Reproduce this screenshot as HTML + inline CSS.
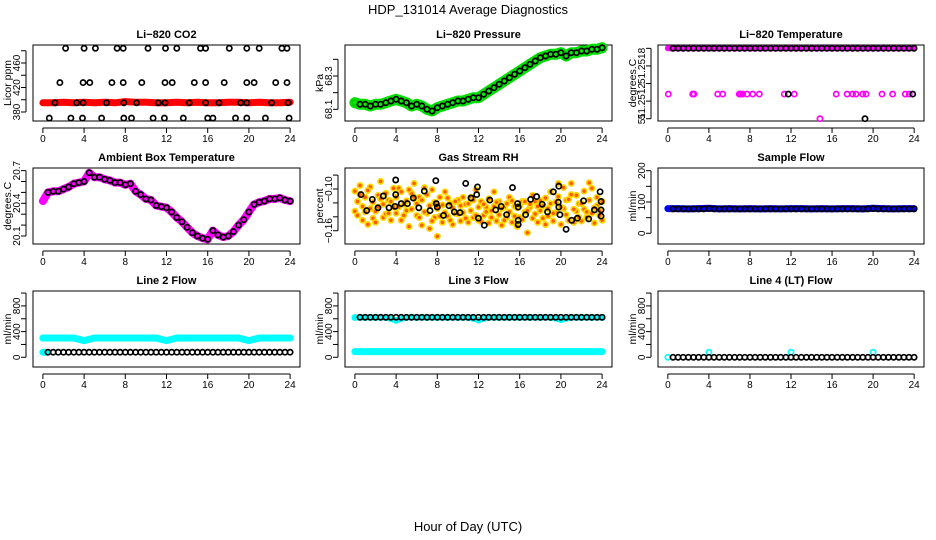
<!DOCTYPE html>
<html><head><meta charset="utf-8"><style>
html,body{margin:0;padding:0;background:#fff;}
svg{display:block;font-family:"Liberation Sans",sans-serif;}
</style></head><body>
<svg id="chart" width="936" height="540" viewBox="0 0 936 540" xmlns="http://www.w3.org/2000/svg">
<rect width="936" height="540" fill="#fff"/>
<text x="468" y="14" text-anchor="middle" font-size="13">HDP_131014  Average Diagnostics</text>
<text x="468" y="531" text-anchor="middle" font-size="13">Hour of Day (UTC)</text>
</svg>
<script>
// ---------- data ----------
const xTicks = [0,4,8,12,16,20,24];
const hours25 = [0,1,2,3,4,5,6,7,8,9,10,11,12,13,14,15,16,17,18,19,20,21,22,23,24];
const halfHours = [0,0.5,1,1.5,2,2.5,3,3.5,4,4.5,5,5.5,6,6.5,7,7.5,8,8.5,9,9.5,10,10.5,11,11.5,12,12.5,13,13.5,14,14.5,15,15.5,16,16.5,17,17.5,18,18.5,19,19.5,20,20.5,21,21.5,22,22.5,23,23.5,24];

// CO2
const co2Red = [395,395,396,395,396,395,396,395,397,396,396,395,395,396,395,396,395,395,396,396,395,396,395,395,396];
const co2BlackHours = [2.2,4.0,5.1,7.2,7.8,10.2,11.9,13.0,15.3,15.8,18.1,19.8,21.0,23.2,23.7,
 1.65,3.9,4.55,6.7,7.8,9.6,11.85,12.55,14.7,15.8,17.6,19.8,20.5,22.6,23.7,
 1.17,3.27,3.9,6.18,7.85,9.1,11.2,11.85,14.2,15.8,17.1,19.2,19.8,22.2,23.8,
 0.62,2.72,3.85,5.7,7.85,8.6,10.7,11.8,13.63,16.0,16.5,18.7,19.8,21.6,23.9];
const co2BlackVals = [484,484,484,484,484,484,484,484,484,484,484,484,484,484,484,
 428,428,428,428,428,428,428,428,428,428,428,428,428,428,428,
 395,395,395,395,395,395,395,395,395,395,395,395,395,395,395,
 370,370,370,370,370,370,370,370,370,370,370,370,370,370,370];

// Pressure
const pressure = [68.14,68.13,68.13,68.12,68.13,68.13,68.14,68.15,68.16,68.15,68.14,68.12,68.13,68.12,68.10,68.09,68.11,68.12,68.13,68.14,68.15,68.15,68.16,68.17,68.17,68.19,68.21,68.23,68.25,68.27,68.29,68.31,68.33,68.35,68.37,68.39,68.41,68.42,68.43,68.43,68.44,68.42,68.44,68.44,68.45,68.45,68.46,68.46,68.47];

// Li-820 temperature
const tempTopVal = [51.2519,51.2519,51.2519,51.2519,51.2519,51.2519,51.2519,51.2519,51.2519,51.2519,51.2519,51.2519,51.2519,51.2519,51.2519,51.2519,51.2519,51.2519,51.2519,51.2519,51.2519,51.2519,51.2519,51.2519,51.2519,51.2519,51.2519,51.2519,51.2519,51.2519,51.2519,51.2519,51.2519,51.2519,51.2519,51.2519,51.2519,51.2519,51.2519,51.2519,51.2519,51.2519,51.2519,51.2519,51.2519,51.2519,51.2519,51.2519,51.2519];
const tempMagHours = [0.04,2.42,2.55,4.86,5.34,6.96,7.1,7.29,7.71,8.27,8.91,11.35,12.32,16.4,17.47,18.0,18.33,18.99,19.31,20.87,21.9,23.14,23.53,14.83];
const tempMagVals = [51.25164,51.25164,51.25164,51.25164,51.25164,51.25164,51.25164,51.25164,51.25164,51.25164,51.25164,51.25164,51.25164,51.25164,51.25164,51.25164,51.25164,51.25164,51.25164,51.25164,51.25164,51.25164,51.25164,51.2515];
const tempBlkHours = [11.74,23.86,19.21];
const tempBlkVals = [51.25164,51.25164,51.2515];
const tempTickVals = [51.2515,51.2516,51.2517,51.2518,51.2519];
const tempTickLabels = ["51","51.2512","","51.2518",""];

// Ambient box temperature
const ambient = [20.42,20.50,20.51,20.51,20.53,20.55,20.58,20.59,20.60,20.68,20.64,20.64,20.62,20.61,20.59,20.59,20.57,20.58,20.51,20.48,20.44,20.43,20.38,20.37,20.36,20.32,20.27,20.23,20.18,20.13,20.10,20.08,20.07,20.15,20.11,20.09,20.10,20.14,20.20,20.25,20.32,20.39,20.41,20.42,20.44,20.44,20.45,20.43,20.42];

// Gas stream RH
const rhOrangeHours = [0,0.25,0.5,0.75,1,1.25,1.5,1.75,2,2.25,2.5,2.75,3,3.25,3.5,3.75,4,4.25,4.5,4.75,5,5.25,5.5,5.75,6,6.25,6.5,6.75,7,7.25,7.5,7.75,8,8.25,8.5,8.75,9,9.25,9.5,9.75,10,10.25,10.5,10.75,11,11.25,11.5,11.75,12,12.25,12.5,12.75,13,13.25,13.5,13.75,14,14.25,14.5,14.75,15,15.25,15.5,15.75,16,16.25,16.5,16.75,17,17.25,17.5,17.75,18,18.25,18.5,18.75,19,19.25,19.5,19.75,20,20.25,20.5,20.75,21,21.25,21.5,21.75,22,22.25,22.5,22.75,23,23.25,23.5,23.75,24];
const rhOrangeA = [-0.103,-0.118,-0.108,-0.125,-0.112,-0.102,-0.128,-0.119,-0.132,-0.109,-0.114,-0.122,-0.106,-0.135,-0.118,-0.099,-0.112,-0.126,-0.104,-0.138,-0.117,-0.101,-0.129,-0.112,-0.121,-0.141,-0.116,-0.133,-0.108,-0.124,-0.146,-0.119,-0.128,-0.139,-0.123,-0.134,-0.113,-0.145,-0.127,-0.118,-0.136,-0.124,-0.112,-0.142,-0.121,-0.131,-0.116,-0.138,-0.126,-0.147,-0.122,-0.133,-0.114,-0.141,-0.125,-0.119,-0.137,-0.128,-0.145,-0.121,-0.133,-0.117,-0.139,-0.127,-0.124,-0.144,-0.118,-0.131,-0.122,-0.109,-0.136,-0.125,-0.117,-0.142,-0.113,-0.128,-0.104,-0.135,-0.119,-0.111,-0.126,-0.098,-0.137,-0.115,-0.092,-0.129,-0.109,-0.141,-0.121,-0.103,-0.133,-0.116,-0.099,-0.127,-0.112,-0.138,-0.118];
const rhOrangeB = [-0.132,-0.138,-0.095,-0.145,-0.133,-0.151,-0.097,-0.142,-0.148,-0.126,-0.089,-0.141,-0.136,-0.116,-0.145,-0.126,-0.135,-0.099,-0.145,-0.122,-0.131,-0.154,-0.106,-0.092,-0.138,-0.112,-0.152,-0.098,-0.135,-0.157,-0.101,-0.141,-0.168,-0.112,-0.148,-0.104,-0.139,-0.121,-0.151,-0.135,-0.116,-0.146,-0.134,-0.122,-0.148,-0.112,-0.141,-0.101,-0.145,-0.118,-0.138,-0.126,-0.149,-0.131,-0.104,-0.146,-0.118,-0.152,-0.126,-0.141,-0.112,-0.148,-0.125,-0.154,-0.141,-0.118,-0.133,-0.163,-0.126,-0.142,-0.118,-0.148,-0.131,-0.124,-0.151,-0.139,-0.121,-0.146,-0.134,-0.092,-0.151,-0.128,-0.116,-0.145,-0.108,-0.148,-0.132,-0.121,-0.146,-0.129,-0.141,-0.091,-0.135,-0.149,-0.124,-0.131,-0.145];
const rhBlackHours = [0.59,1.15,1.69,2.24,2.76,3.31,3.89,3.96,3.96,4.5,5.1,5.67,6.2,6.74,7.29,7.85,7.9,8.0,8.6,9.14,9.65,10.2,10.76,11.27,11.83,11.9,11.99,12.56,13.1,13.67,14.2,14.73,15.3,15.8,15.85,15.85,15.85,16.57,17.06,17.64,18.18,18.7,19.26,19.75,19.8,19.8,19.9,20.5,21.05,21.6,22.2,22.7,23.25,23.8,23.9,23.9,23.9];
const rhBlackVals = [-0.108,-0.131,-0.115,-0.127,-0.110,-0.127,-0.125,-0.087,-0.108,-0.121,-0.121,-0.113,-0.127,-0.103,-0.131,-0.088,-0.121,-0.126,-0.138,-0.124,-0.133,-0.134,-0.092,-0.113,-0.108,-0.097,-0.142,-0.152,-0.116,-0.130,-0.125,-0.137,-0.098,-0.121,-0.126,-0.145,-0.151,-0.137,-0.115,-0.111,-0.122,-0.133,-0.104,-0.119,-0.096,-0.126,-0.137,-0.158,-0.145,-0.142,-0.117,-0.143,-0.130,-0.104,-0.118,-0.130,-0.139];

// Sample flow
const sampleBlue = [79,79,78,79,80,78,79,78,79,78,79,78,79,79,78,79,78,79,79,78,80,79,78,79,79];
const sampleBlack = [78,78,78,78,78,78,78,78,79,78,78,78,78,78,78,78,78,78,78,78,78,78,78,78,78,78,78,78,78,78,78,78,78,78,78,78,78,78,78,78,79,78,78,78,78,78,78,78,78];

// Line flows
const line2Cyan = [300,300,300,300,260,300,300,300,300,300,300,300,260,300,300,300,300,300,300,300,260,300,300,300,300];
const line2Black = [80,80,80,80,80,80,80,80,80,80,80,80,80,80,80,80,80,80,80,80,80,80,80,80,80,80,80,80,80,80,80,80,80,80,80,80,80,80,80,80,80,80,80,80,80,80,80,80,80];
const line3CyanHigh = [620,620,620,620,575,620,620,620,620,620,620,620,580,620,620,620,620,620,620,620,585,620,620,620,620];
const line3CyanLow = [88,88,88,88,88,88,88,88,88,88,88,88,88,88,88,88,88,88,88,88,88,88,88,88,88];
const line3Black = [622,622,622,622,622,622,622,622,622,622,622,622,622,622,622,622,622,622,622,622,622,622,622,622,622,622,622,622,622,622,622,622,622,622,622,622,622,622,622,622,622,622,622,622,622,622,622,622,622];
const line4CyanHours = [0,4,12,20];
const line4CyanVals = [0,80,80,80];
const line4Black = [0,0,0,0,0,0,0,0,0,0,0,0,0,0,0,0,0,0,0,0,0,0,0,0,0,0,0,0,0,0,0,0,0,0,0,0,0,0,0,0,0,0,0,0,0,0,0,0,0];

// ---------- drawing ----------
const NS = "http://www.w3.org/2000/svg";
const svg = document.getElementById('chart');
function mk(tag, attrs, parent){
  const e = document.createElementNS(NS, tag);
  for (const k in attrs) e.setAttribute(k, attrs[k]);
  (parent||svg).appendChild(e);
  return e;
}
function makePanel(name, x0, x1, y0, y1, ymin, ymax, title, ylab, yTicks, yLabels){
  const g = mk('g', {});
  
  
  const p = {g, x0, x1, y0, y1,
    sx: h => x0 + (h + 0.96) / 25.92 * (x1 - x0),
    sy: v => y1 - (v - ymin) / (ymax - ymin) * (y1 - y0)};
  const t = mk('text', {x:(x0+x1)/2, y:y0-7, 'text-anchor':'middle', 'font-size':'11', 'font-weight':'bold'}, g);
  t.textContent = title;
  
  
  const yl = mk('text', {x:0, y:0, 'text-anchor':'middle', 'font-size':'10.5', transform:`translate(${x0-22},${(y0+y1)/2}) rotate(-90)`}, g);
  yl.textContent = ylab;
  
  
  // x axis
  const xa = mk('g', {}, g);
  
  
  mk('line', {x1:p.sx(xTicks[0]), x2:p.sx(xTicks[xTicks.length-1]), y1:y1+7, y2:y1+7, stroke:'#000'}, xa);
  xTicks.forEach(v => {
    mk('line', {x1:p.sx(v), x2:p.sx(v), y1:y1+7, y2:y1+12, stroke:'#000'}, xa);
    const tx = mk('text', {x:p.sx(v), y:y1+21, 'text-anchor':'middle', 'font-size':'10'}, xa);
    tx.textContent = v;
    
    
  });
  // y axis
  const ya = mk('g', {}, g);
  
  
  mk('line', {x1:x0-7, x2:x0-7, y1:p.sy(yTicks[0]), y2:p.sy(yTicks[yTicks.length-1]), stroke:'#000'}, ya);
  yTicks.forEach((v, i) => {
    mk('line', {x1:x0-12, x2:x0-7, y1:p.sy(v), y2:p.sy(v), stroke:'#000'}, ya);
    if (yLabels[i]) {
      const ty = mk('text', {x:0, y:0, 'text-anchor':'middle', 'font-size':'10', transform:`translate(${x0-13},${p.sy(v)}) rotate(-90)`}, ya);
      ty.textContent = yLabels[i];
      
      
    }
  });
  const box = mk('rect', {x:x0, y:y0, width:x1-x0, height:y1-y0, fill:'none', stroke:'#000'}, g);
  
  
  return p;
}
function band(p, hs, vs, color, w, nm){
  const pts = hs.map((h,i) => p.sx(h).toFixed(1)+','+p.sy(vs[i]).toFixed(1)).join(' ');
  const pl = mk('polyline', {points:pts, fill:'none', stroke:color, 'stroke-width':w, 'stroke-linejoin':'round', 'stroke-linecap':'round'}, p.g);
  
  
}
function pts(p, hs, vs, stroke, fill, nm){
  const g = mk('g', {}, p.g);
  
  
  hs.forEach((h,i) => {
    const c = mk('circle', {cx:p.sx(h).toFixed(1), cy:p.sy(vs[i]).toFixed(1), r:2.6, fill:fill, stroke:stroke, 'stroke-width':1.7}, g);
    
    
  });
}
const C = [[33,300],[345,612],[658,924]];
const R = [[45,121],[168,244],[291,367]];

// 1 CO2
let p = makePanel('co2-panel', C[0][0], C[0][1], R[0][0], R[0][1], 365.3, 489.4, 'Li\u2212820 CO2', 'Licor ppm', [380,400,420,440,460,480], ['380','','420','','460','']);
band(p, hours25, co2Red, '#ff0000', 7, 'co2-red-series');
pts(p, co2BlackHours, co2BlackVals, '#000', 'none', 'co2-black-points');

// 2 Pressure
p = makePanel('pressure-panel', C[1][0], C[1][1], R[0][0], R[0][1], 68.03, 68.486, 'Li\u2212820 Pressure', 'kPa', [68.1,68.2,68.3,68.4], ['68.1','','68.3','']);
band(p, halfHours, pressure, '#00dd00', 11, 'pressure-green-series');
pts(p, halfHours, pressure, '#00cc00', '#00ee00', 'pressure-green-points');
pts(p, halfHours.slice(1), pressure.slice(1), '#000', 'none', 'pressure-black-points');

// 3 Li-820 temp
p = makePanel('li820-temp-panel', C[2][0], C[2][1], R[0][0], R[0][1], 51.251487, 51.251919, 'Li\u2212820 Temperature', 'degrees.C', tempTickVals, tempTickLabels);
band(p, halfHours, tempTopVal, '#ff00ff', 6, 'temp-magenta-series');
pts(p, tempMagHours, tempMagVals, '#ff00ff', 'none', 'temp-magenta-points');
pts(p, halfHours.slice(1), tempTopVal.slice(1), '#000', 'none', 'temp-black-points');
pts(p, tempBlkHours, tempBlkVals, '#000', 'none', 'temp-black-outliers');

// 4 Ambient
p = makePanel('ambient-temp-panel', C[0][0], C[0][1], R[1][0], R[1][1], 20.0266, 20.724, 'Ambient Box Temperature', 'degrees.C', [20.1,20.2,20.3,20.4,20.5,20.6,20.7], ['20.1','','','20.4','','','20.7']);
band(p, halfHours, ambient, '#ff00ff', 8, 'ambient-magenta-series');
pts(p, halfHours.slice(1), ambient.slice(1), '#000', 'none', 'ambient-black-points');

// 5 RH
p = makePanel('gas-rh-panel', C[1][0], C[1][1], R[1][0], R[1][1], -0.1791, -0.0698, 'Gas Stream RH', 'percent', [-0.16,-0.14,-0.12,-0.10,-0.08], ['\u22120.16','','','\u22120.10','']);
pts(p, rhOrangeHours, rhOrangeB, '#ffd700', '#ff5a00', 'rh-orange-points-b');
pts(p, rhOrangeHours, rhOrangeA, '#ffd700', '#ff5a00', 'rh-orange-points-a');
pts(p, rhBlackHours, rhBlackVals, '#000', 'none', 'rh-black-points');

// 6 Sample flow
p = makePanel('sample-flow-panel', C[2][0], C[2][1], R[1][0], R[1][1], -34.2, 208.6, 'Sample Flow', 'ml/min', [0,50,100,150,200], ['0','','100','','200']);
band(p, hours25, sampleBlue, '#0000ff', 7, 'sample-blue-series');
pts(p, halfHours.slice(1), sampleBlack.slice(1), '#000', 'none', 'sample-black-points');

// 7 Line 2
const fT = [0,200,400,600,800,1000], fL = ['0','','400','','800',''];
p = makePanel('line2-flow-panel', C[0][0], C[0][1], R[2][0], R[2][1], -151, 1032, 'Line 2 Flow', 'ml/min', fT, fL);
band(p, hours25, line2Cyan, '#00ffff', 7, 'line2-cyan-series');
pts(p, hours25, line2Cyan, '#00ffff', 'none', 'line2-cyan-points');
band(p, [0,0.3], [80,80], '#00ffff', 7, 'line2-cyan-start');
pts(p, halfHours.slice(1), line2Black.slice(1), '#000', 'none', 'line2-black-points');

// 8 Line 3
p = makePanel('line3-flow-panel', C[1][0], C[1][1], R[2][0], R[2][1], -151, 1032, 'Line 3 Flow', 'ml/min', fT, fL);
band(p, hours25, line3CyanHigh, '#00ffff', 6, 'line3-cyan-high');
pts(p, hours25, line3CyanHigh, '#00ffff', 'none', 'line3-cyan-high-points');
band(p, hours25, line3CyanLow, '#00ffff', 7, 'line3-cyan-low');
pts(p, halfHours.slice(1), line3Black.slice(1), '#000', 'none', 'line3-black-points');

// 9 Line 4
p = makePanel('line4-flow-panel', C[2][0], C[2][1], R[2][0], R[2][1], -151, 1032, 'Line 4 (LT) Flow', 'ml/min', fT, fL);
pts(p, line4CyanHours, line4CyanVals, '#00ffff', 'none', 'line4-cyan-points');
pts(p, halfHours.slice(1), line4Black.slice(1), '#000', 'none', 'line4-black-points');
</script>
</body></html>
